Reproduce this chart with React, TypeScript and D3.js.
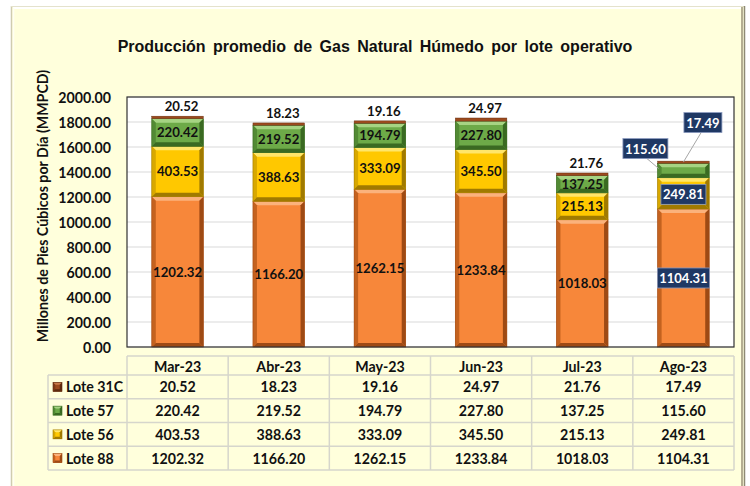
import React from 'react';
import * as d3 from 'd3';

const months = ['Mar-23', 'Abr-23', 'May-23', 'Jun-23', 'Jul-23', 'Ago-23'];
const lote88 = [1202.32, 1166.2, 1262.15, 1233.84, 1018.03, 1104.31];
const lote56 = [403.53, 388.63, 333.09, 345.5, 215.13, 249.81];
const lote57 = [220.42, 219.52, 194.79, 227.8, 137.25, 115.6];
const lote31C = [20.52, 18.23, 19.16, 24.97, 21.76, 17.49];
const seriesKeys = ['Lote 88', 'Lote 56', 'Lote 57', 'Lote 31C'];
const tableOrder = ['Lote 31C', 'Lote 57', 'Lote 56', 'Lote 88'];
const yTicks = [0, 200, 400, 600, 800, 1000, 1200, 1400, 1600, 1800, 2000];
const calloutMonth = 'Ago-23';

const title = 'Producción promedio de Gas Natural Húmedo por lote operativo';
const yTitle = 'Millones de Pies Cúbicos por Día (MMPCD)';

const seriesValues: Record<string, number[]> = {
  'Lote 88': lote88,
  'Lote 56': lote56,
  'Lote 57': lote57,
  'Lote 31C': lote31C,
};

const palette: Record<string, { face: string; light: string; dark: string; side: string }> = {
  'Lote 88': { face: '#F7873A', light: '#FBB27C', dark: '#9E4A14', side: '#C4621F' },
  'Lote 56': { face: '#FFC800', light: '#FFE66A', dark: '#A07A00', side: '#D8A800' },
  'Lote 57': { face: '#6DAA48', light: '#A6D483', dark: '#3A6A22', side: '#528A34' },
  'Lote 31C': { face: '#9B4A1E', light: '#C87A4A', dark: '#5E2A0E', side: '#7E3A16' },
};

const FONT = 'Lato, "Open Sans", sans-serif';

function Bevel({ x, y, w, h, c }: { x: number; y: number; w: number; h: number; c: any }) {
  const b = Math.max(0, Math.min(4, h / 3.2, w / 4));
  if (b < 1) {
    return <rect x={x} y={y} width={w} height={h} fill={c.face} stroke={c.dark} strokeWidth={0.4} />;
  }
  const x1 = x + w;
  const y1 = y + h;
  return (
    <g>
      <rect x={x} y={y} width={w} height={h} fill={c.face} />
      <polygon points={`${x},${y} ${x1},${y} ${x1 - b},${y + b} ${x + b},${y + b}`} fill={c.light} />
      <polygon points={`${x},${y} ${x + b},${y + b} ${x + b},${y1 - b} ${x},${y1}`} fill={c.side} />
      <polygon points={`${x1},${y} ${x1},${y1} ${x1 - b},${y1 - b} ${x1 - b},${y + b}`} fill={c.dark} />
      <polygon points={`${x},${y1} ${x + b},${y1 - b} ${x1 - b},${y1 - b} ${x1},${y1}`} fill={c.dark} />
      <rect x={x} y={y} width={w} height={h} fill="none" stroke={c.dark} strokeWidth={0.6} />
    </g>
  );
}

export default function App() {
  const W = 750;
  const H = 486;
  const plot = { l: 127, r: 734, t: 97, b: 347 };

  const x = d3
    .scaleBand<string>()
    .domain(months)
    .range([plot.l, plot.r])
    .paddingInner(0.49)
    .paddingOuter(0.245);
  const y = d3.scaleLinear().domain([0, 2000]).range([plot.b, plot.t]);
  const cell = d3.scaleBand<string>().domain(months).range([plot.l, plot.r]);

  const rows = months.map((m, i) => {
    const r: any = { month: m };
    seriesKeys.forEach((k) => (r[k] = seriesValues[k][i]));
    return r;
  });
  const stacked = d3.stack<any>().keys(seriesKeys)(rows);

  const fmt = d3.format('.2f');
  const bw = x.bandwidth();

  // table geometry
  const tHeadTop = 356;
  const tHeadBot = 375;
  const rowH = 23.75;
  const legL = 48;
  const tBottom = tHeadBot + rowH * tableOrder.length;
  const tableLine = '#D6D6CC';

  const callBox = (cx: number, cy: number, text: string, key: string) => {
    const w = text.length * 7 + 3;
    const h = 20;
    return (
      <g key={key}>
        <rect x={cx - w / 2} y={cy - h / 2} width={w} height={h} fill="#1F3864" stroke="#8C9BBF" strokeWidth={0.8} />
        <text x={cx} y={cy} fill="#fff" fontFamily={FONT} fontWeight={700} fontSize={13} textAnchor="middle" dominantBaseline="central">
          {text}
        </text>
      </g>
    );
  };

  return (
    <div style={{ position: 'absolute', left: 0, top: 0 }}>
      <svg width={W} height={H} viewBox={`0 0 ${W} ${H}`} style={{ display: 'block' }}>
        <rect x={0} y={0} width={W} height={H} fill="#ffffff" />
        {/* panel */}
        <rect x={11} y={6} width={733} height={H} fill="#FFFFDC" />
        <line x1={11.5} y1={6} x2={11.5} y2={H} stroke="#D0CCB0" strokeWidth={1.5} />
        <line x1={11} y1={6.5} x2={744} y2={6.5} stroke="#E4E2CC" strokeWidth={1} />
        <line x1={13} y1={8} x2={741} y2={8} stroke="#FFFFFF" strokeWidth={2} />
        <line x1={13.5} y1={8} x2={13.5} y2={H} stroke="#FFFFF2" strokeWidth={1.5} />
        <line x1={742} y1={7} x2={742} y2={H} stroke="#B4AE92" strokeWidth={2} />
        <line x1={744.5} y1={6} x2={744.5} y2={H} stroke="#8E8A74" strokeWidth={1.5} />

        {/* title */}
        <text x={375} y={52} textAnchor="middle" fontFamily="'Liberation Sans', Arial, sans-serif" fontWeight={700} fontSize={16} wordSpacing={3} fill="#111">
          {title}
        </text>

        {/* plot area */}
        <rect x={plot.l} y={plot.t} width={plot.r - plot.l} height={plot.b - plot.t} fill="#ffffff" />
        {yTicks.map((t) => (
          <line key={'g' + t} x1={plot.l} x2={plot.r} y1={y(t)} y2={y(t)} stroke="#D9D9D9" strokeWidth={1.2} />
        ))}
        {yTicks.map((t) => (
          <text key={'yt' + t} x={111} y={y(t)} textAnchor="end" dominantBaseline="central" fontFamily={FONT} fontWeight={700} fontSize={14.2} fill="#111">
            {fmt(t)}
          </text>
        ))}
        <text
          transform={`translate(42,${(plot.t + plot.b) / 2 - 16}) rotate(-90)`}
          textAnchor="middle"
          dominantBaseline="central"
          fontFamily={FONT}
          fontWeight={700}
          fontSize={14.2}
          fill="#111"
        >
          {yTitle}
        </text>

        {/* bars */}
        {stacked.map((s) => (
          <g key={s.key}>
            {s.map((d, i) => {
              const m = months[i];
              const y0 = y(d[1]);
              const y1 = y(d[0]);
              return <Bevel key={m} x={x(m)!} y={y0} w={bw} h={y1 - y0} c={palette[s.key]} />;
            })}
          </g>
        ))}
        <rect x={plot.l} y={plot.t} width={plot.r - plot.l} height={plot.b - plot.t} fill="none" stroke="#333" strokeWidth={1.2} />

        {/* labels */}
        {stacked.map((s) =>
          s.map((d, i) => {
            const m = months[i];
            const cx = x(m)! + bw / 2;
            const v = seriesValues[s.key][i];
            if (m === calloutMonth) return null;
            if (s.key === 'Lote 31C') {
              return (
                <text key={s.key + m} x={cx + 4} y={y(d[1]) - 5} textAnchor="middle" fontFamily={FONT} fontWeight={700} fontSize={13.2} fill="#111">
                  {fmt(v)}
                </text>
              );
            }
            return (
              <text key={s.key + m} x={cx} y={(y(d[0]) + y(d[1])) / 2} textAnchor="middle" dominantBaseline="central" fontFamily={FONT} fontWeight={700} fontSize={13.2} fill="#111">
                {fmt(v)}
              </text>
            );
          })
        )}

        {/* callouts for last month */}
        {(() => {
          const i = months.indexOf(calloutMonth);
          const cx = x(calloutMonth)! + bw / 2;
          const left = x(calloutMonth)!;
          const seg = (k: string) => stacked[seriesKeys.indexOf(k)][i];
          const top = y(seg('Lote 31C')[1]);
          const g57 = seg('Lote 57');
          const out: any[] = [];
          out.push(<line key="l31" x1={cx + 18} y1={top - 29} x2={cx} y2={top + 1} stroke="#A6A6A6" strokeWidth={1} />);
          out.push(<line key="l57" x1={cx - 37} y1={top - 3} x2={left + 1} y2={(y(g57[0]) + y(g57[1])) / 2 - 2} stroke="#A6A6A6" strokeWidth={1} />);
          out.push(callBox(cx + 19.5, top - 38.5, fmt(lote31C[i]), 'b31'));
          out.push(callBox(cx - 38, top - 12.5, fmt(lote57[i]), 'b57'));
          const s56 = seg('Lote 56');
          out.push(callBox(cx, (y(s56[0]) + y(s56[1])) / 2 + 1, fmt(lote56[i]), 'b56'));
          const s88 = seg('Lote 88');
          out.push(callBox(cx, (y(s88[0]) + y(s88[1])) / 2, fmt(lote88[i]), 'b88'));
          return out;
        })()}

        {/* data table */}
        <g>
          <line x1={plot.l} x2={plot.r} y1={tHeadTop} y2={tHeadTop} stroke={tableLine} strokeWidth={1.5} />
          {tableOrder.map((k, r) => (
            <line key={'hl' + k} x1={legL} x2={plot.r} y1={tHeadBot + rowH * r} y2={tHeadBot + rowH * r} stroke={tableLine} strokeWidth={1.5} />
          ))}
          <line x1={legL} x2={plot.r} y1={tBottom} y2={tBottom} stroke={tableLine} strokeWidth={1.5} />
          <line x1={legL} x2={legL} y1={tHeadBot} y2={tBottom} stroke={tableLine} strokeWidth={1.5} />
          {months.map((m) => (
            <line key={'vl' + m} x1={cell(m)!} x2={cell(m)!} y1={tHeadTop} y2={tBottom} stroke={tableLine} strokeWidth={1.5} />
          ))}
          <line x1={plot.r} x2={plot.r} y1={tHeadTop} y2={tBottom} stroke={tableLine} strokeWidth={1.5} />
          {months.map((m) => (
            <text key={'h' + m} x={cell(m)! + cell.bandwidth() / 2} y={(tHeadTop + tHeadBot) / 2 + 1} textAnchor="middle" dominantBaseline="central" fontFamily={FONT} fontWeight={700} fontSize={14.2} fill="#111">
              {m}
            </text>
          ))}
          {tableOrder.map((k, r) => {
            const cy = tHeadBot + rowH * r + rowH / 2;
            return (
              <g key={'row' + k}>
                <Bevel x={53} y={cy - 4.5} w={9} h={9} c={palette[k]} />
                <text x={66} y={cy} dominantBaseline="central" fontFamily={FONT} fontWeight={700} fontSize={14.2} fill="#111">
                  {k}
                </text>
                {months.map((m, i) => (
                  <text key={m} x={cell(m)! + cell.bandwidth() / 2} y={cy} textAnchor="middle" dominantBaseline="central" fontFamily={FONT} fontWeight={700} fontSize={14.2} fill="#111">
                    {fmt(seriesValues[k][i])}
                  </text>
                ))}
              </g>
            );
          })}
        </g>
      </svg>
    </div>
  );
}
